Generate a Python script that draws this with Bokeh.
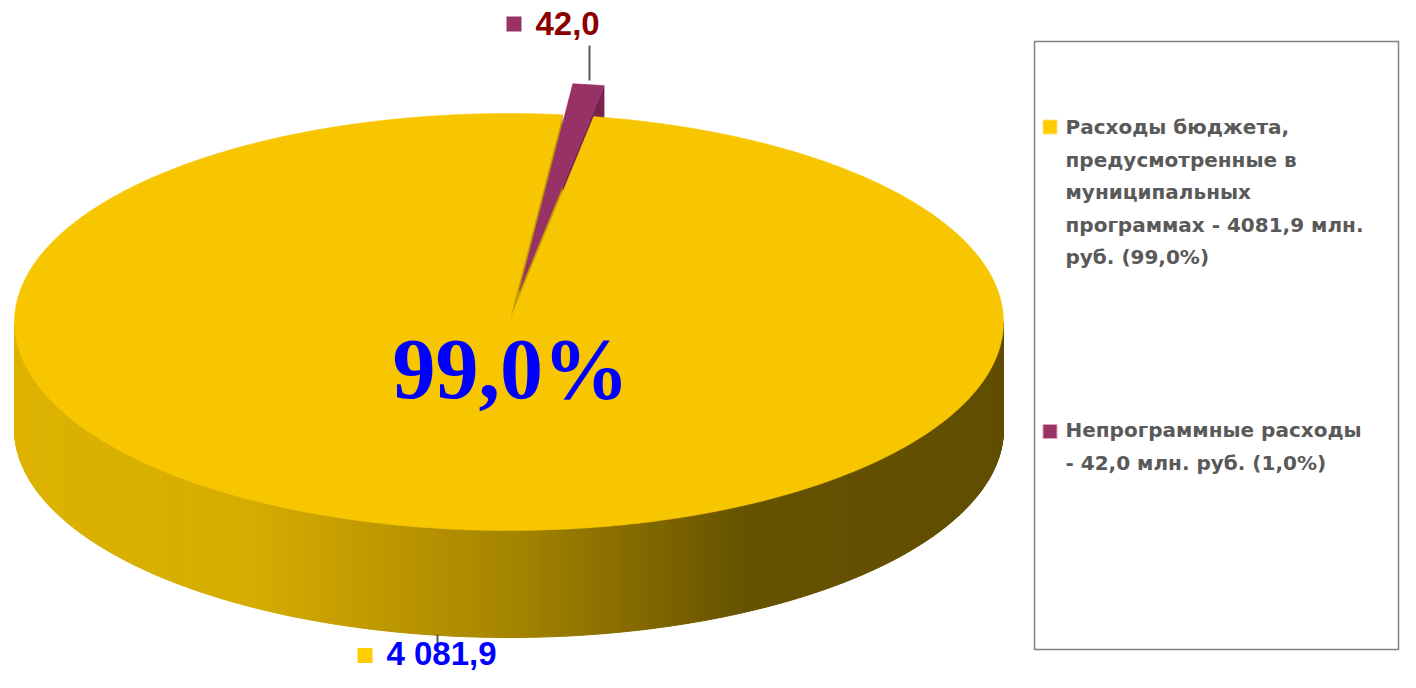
import numpy as np
from bokeh.plotting import figure
from bokeh.models import Range1d
from bokeh.core.properties import value
from bokeh.embed import file_html
from bokeh.resources import INLINE

# ---------------- data ----------------
categories = ["Расходы бюджета, предусмотренные в муниципальных программах",
              "Непрограммные расходы"]
values = [4081.9, 42.0]
shares = ["99,0%", "1,0%"]
value_labels = ["4 081,9", "42,0"]
top_colors = ["#F8C600", "#983266"]
marker_colors = ["#FFCC00", "#993366"]
label_colors = ["#0000FF", "#8C0000"]
legend_lines_1 = ["Расходы бюджета,", "предусмотренные в", "муниципальных",
                  "программах - 4081,9 млн.", "руб. (99,0%)"]
legend_lines_2 = ["Непрограммные расходы", "- 42,0 млн. руб. (1,0%)"]
big_label = "99,0%"

# ---------------- layout constants (reference pixel space) ----------------
cx, cy = 508.5, 321.5      # centre of top ellipse
a, b = 494.5, 208.5        # semi axes
depth = 107.0              # visible thickness
start_deg = 83.8           # start angle of first slice (counter-clockwise)
explode = 0.15             # explosion of the second slice
BL = 0.36                  # baseline correction (fraction of font size)

p = figure(width=1400, height=672, x_range=Range1d(0, 1400), y_range=Range1d(672, 0),
           output_backend="svg", toolbar_location=None, min_border=0,
           x_axis_type=None, y_axis_type=None)
p.grid.visible = False
p.outline_line_color = None
p.background_fill_color = "white"
p.border_fill_color = "white"

total = sum(values)
spans = [v / total * 360.0 for v in values]
ang0 = [start_deg, start_deg + spans[0]]
ang1 = [start_deg + spans[0], start_deg + spans[0] + spans[1]]


def pt(theta_deg, ox=0.0, oy=0.0):
    t = np.radians(theta_deg)
    return cx + ox + a * np.cos(t), cy + oy - b * np.sin(t)


offs = []
for i in range(2):
    if i == 1:
        mid = np.radians((ang0[i] + ang1[i]) / 2)
        offs.append((a * explode * np.cos(mid), -b * explode * np.sin(mid)))
    else:
        offs.append((0.0, 0.0))

# 1. purple right cut face
ox, oy = offs[1]
x1, y1 = pt(ang0[1], ox, oy)
p.patch([cx + ox, x1, x1, cx + ox], [cy + oy, y1, y1 + depth, cy + oy + depth],
        fill_color="#782250", line_color="#782250", line_width=0.5)

# 2. yellow cut face
x2, y2 = pt(ang0[0])
p.patch([cx, x2, x2, cx], [cy, y2, y2 + depth, cy + depth],
        fill_color="#C29C00", line_color="#C29C00", line_width=0.5)

# 3. yellow front side with horizontal gradient
stops_f = [0.0, 0.24, 0.5, 0.74, 1.0]
stops_c = [(221, 179, 0), (214, 172, 0), (166, 133, 0), (102, 82, 0), (97, 78, 0)]
thetas = np.arange(180.0, 360.0 + 1e-9, 0.5)
xs, ys, cols = [], [], []
for t0, t1 in zip(thetas[:-1], thetas[1:]):
    xa, ya = pt(t0)
    xb, yb = pt(t1)
    f = ((xa + xb) / 2 - (cx - a)) / (2 * a)
    c = [int(round(np.interp(f, stops_f, [s[k] for s in stops_c]))) for k in range(3)]
    col = "#%02X%02X%02X" % tuple(c)
    xs.append([xa, xb, xb, xa])
    ys.append([ya, yb, yb + depth, ya + depth])
    cols.append(col)
p.patches(xs, ys, fill_color=cols, line_color=cols, line_width=1)

# 4./5. top faces
for i in range(2):
    ox, oy = offs[i]
    th = np.linspace(ang0[i], ang1[i], max(3, int((ang1[i] - ang0[i]) * 4)))
    px = [cx + ox] + [pt(t, ox, oy)[0] for t in th]
    py = [cy + oy] + [pt(t, ox, oy)[1] for t in th]
    p.patch(px, py, fill_color=top_colors[i], line_color=top_colors[i], line_width=0.5)

# leader lines
p.segment(x0=[589, 437], y0=[45, 634], x1=[589, 437], y1=[80, 643],
          line_color="#595959", line_width=2)

# data labels
fs_lab = 33
p.scatter(x=[513.5, 364.5], y=[23.5, 655], marker="square", size=15,
          fill_color=[marker_colors[1], marker_colors[0]], line_color=None)
p.text(x=[535, 386], y=[35 - BL * fs_lab, 665 - BL * fs_lab],
       text=[value_labels[1], value_labels[0]],
       text_color=[label_colors[1], label_colors[0]], text_font=value("Liberation Sans"),
       text_font_style="bold", text_font_size=f"{fs_lab}px", text_baseline="alphabetic")

# big percentage
fs_big = 86
p.text(x=[392], y=[399 - BL * fs_big], text=[big_label], text_color="#0000FF",
       text_font=value("Liberation Serif"), text_font_style="bold",
       text_font_size=f"{fs_big}px", text_baseline="alphabetic")

# legend box
p.quad(left=[1034], right=[1398], top=[41], bottom=[649], fill_color="white",
       line_color="#808080", line_width=1.5)
p.scatter(x=[1049.5, 1049.5], y=[126.5, 431], marker="square", size=14,
          fill_color=marker_colors, line_color=["#FFE080", "#E0A0C0"], line_width=1)
fs_leg = 20
lx = [1065] * (len(legend_lines_1) + len(legend_lines_2))
ly = [134 + 32.5 * k - BL * fs_leg for k in range(len(legend_lines_1))] + \
     [437 + 33 * k - BL * fs_leg for k in range(len(legend_lines_2))]
p.text(x=lx, y=ly, text=legend_lines_1 + legend_lines_2, text_color="#595959",
       text_font=value("DejaVu Sans"), text_font_style="bold", text_font_size=f"{fs_leg}px",
       text_baseline="alphabetic")

open("out.html", "w").write(file_html(p, INLINE))
